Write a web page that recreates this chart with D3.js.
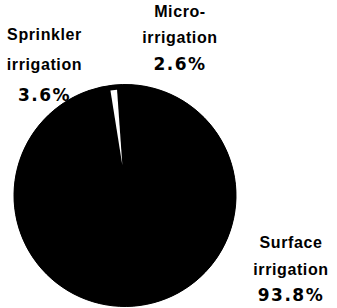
<!DOCTYPE html>
<html>
<head>
<meta charset="utf-8">
<script src="https://cdn.jsdelivr.net/npm/d3@7"></script>
<style>
  html, body { margin: 0; padding: 0; background: #fff; }
  svg { display: block; }
  text { font-family: "Liberation Sans", Arial, sans-serif; font-weight: bold; font-size: 16px; fill: #000; letter-spacing: 0.6px; }
  tspan.pct { font-family: "DejaVu Sans", sans-serif; font-size: 17px; letter-spacing: 1.5px; }
</style>
</head>
<body>
<div id="chart"></div>
<script>
// slices in drawing order, clockwise from just left of 12 o'clock
const categories = ["Micro-irrigation", "Surface irrigation", "Sprinkler irrigation"];
const shares = [2.6, 93.8, 3.6];
const nameLines = [
  ["Micro-", "irrigation"],
  ["Surface", "irrigation"],
  ["Sprinkler", "irrigation"]
];

const width = 337, height = 308;
const cx = 125, cy = 195.5, radius = 111;

const svg = d3.select('#chart').append('svg')
    .attr('width', width)
    .attr('height', height);

const deg = Math.PI / 180;
const pie = d3.pie()
    .sort(null)
    .startAngle(-6 * deg)
    .endAngle(354 * deg)
    .value(d => d);
const arcs = pie(shares);

const arc = d3.arc().innerRadius(0).outerRadius(radius);

const g = svg.append('g').attr('transform', `translate(${cx},${cy})`);

// solid disc underneath so slice seams don't show through
g.append('circle')
    .attr('r', radius)
    .attr('fill', '#000');

g.selectAll('path.slice')
  .data(arcs)
  .enter().append('path')
    .attr('class', 'slice')
    .attr('d', arc)
    .attr('fill', '#000')
    .attr('stroke', '#000')
    .attr('stroke-width', 1);

// the white gap between the sprinkler and micro-irrigation slices
const b = arcs[0].startAngle;
const pt = (r, a) => [r * Math.sin(a), -r * Math.cos(a)];
const gap = [pt(30, b + 1 * deg), pt(106, b - 1.9 * deg), pt(106, b + 1.7 * deg)];
g.append('path')
    .attr('d', d3.line()(gap) + 'Z')
    .attr('fill', '#fff');

// labels: centre x and the baselines of the three lines
const labelPos = [
  [180, [17, 43, 70]],
  [291, [248, 274.5, 301]],
  [44.5, [40, 69.5, 101]]
];

svg.selectAll('text.label')
  .data(arcs)
  .enter().append('text')
    .attr('class', 'label')
    .attr('text-anchor', 'middle')
    .each(function(d, i) {
      const [x, ys] = labelPos[i];
      const lines = nameLines[i].concat([d3.format('.1f')(d.data) + '%']);
      d3.select(this).selectAll('tspan')
        .data(lines)
        .enter().append('tspan')
          .attr('class', (t, j) => j === 2 ? 'pct' : null)
          .attr('x', x)
          .attr('y', (t, j) => ys[j])
          .text(t => t);
    });
</script>
</body>
</html>
